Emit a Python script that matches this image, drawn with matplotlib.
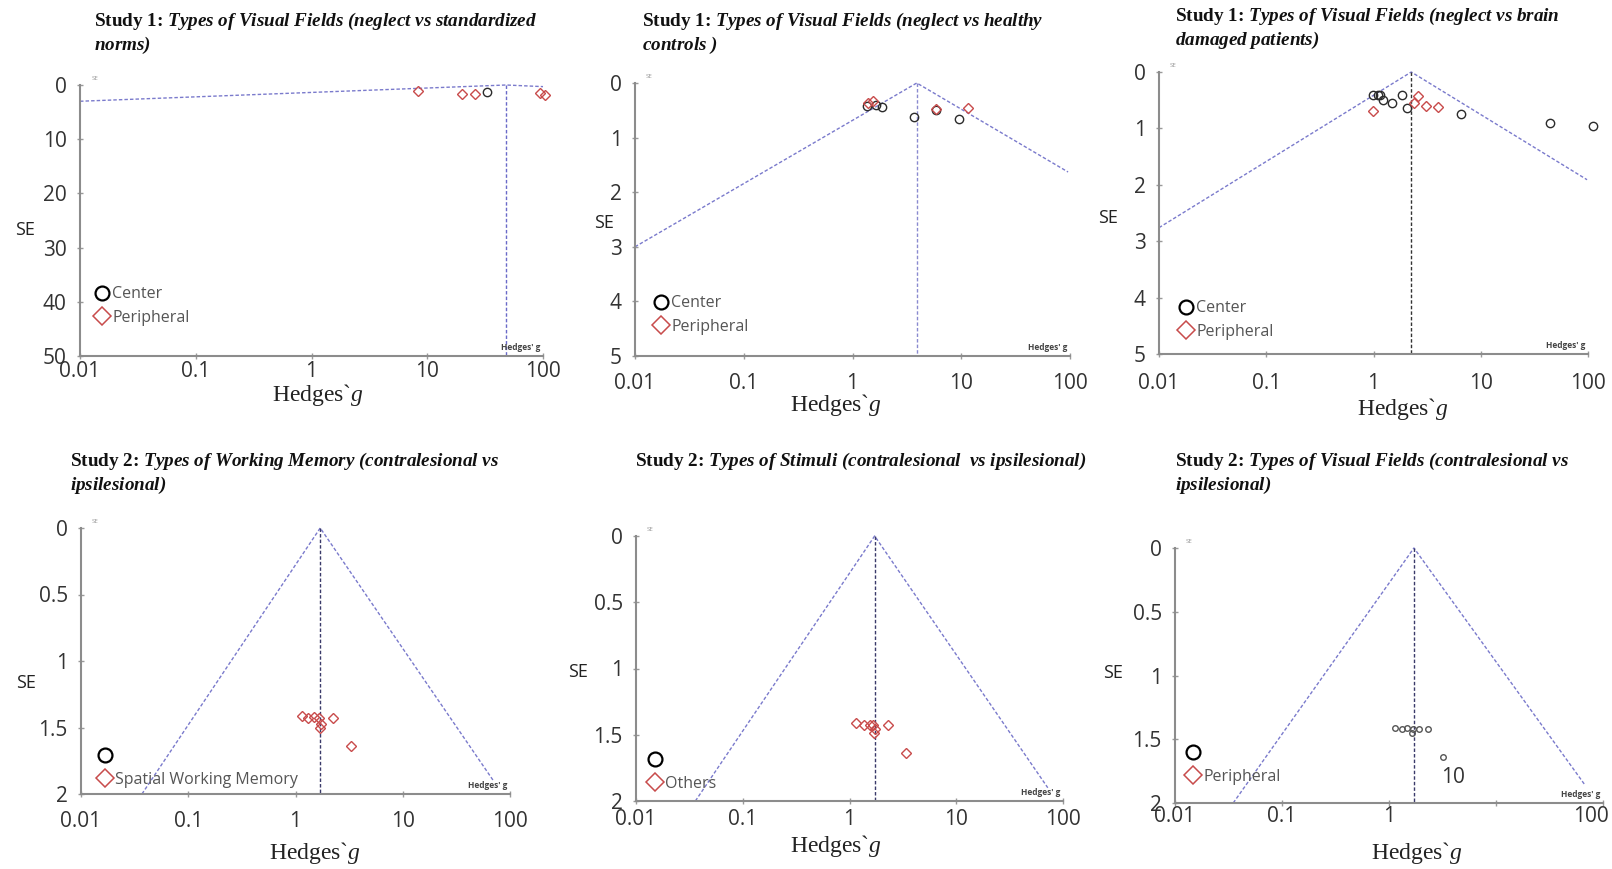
import matplotlib
matplotlib.use("Agg")
import matplotlib.pyplot as plt
from matplotlib.lines import Line2D
from matplotlib.transforms import ScaledTranslation

plt.rcParams['font.family'] = ['Open Sans', 'DejaVu Sans']
plt.rcParams['mathtext.fontset'] = 'custom'
plt.rcParams['mathtext.rm'] = 'Liberation Serif'
plt.rcParams['mathtext.it'] = 'Liberation Serif:italic'
plt.rcParams['mathtext.bf'] = 'Liberation Serif:bold'
plt.rcParams['mathtext.bfit'] = 'Liberation Serif:bold:italic'

# ---- data ----
titles = [
    "Study 1: " + r"$\mathbfit{Types\ of\ Visual\ Fields\ (neglect\ vs\ standardized}$" + "\n" + r"$\mathbfit{norms)}$",
    "Study 1: " + r"$\mathbfit{Types\ of\ Visual\ Fields\ (neglect\ vs\ healthy}$" + "\n" + r"$\mathbfit{controls\ )}$",
    "Study 1: " + r"$\mathbfit{Types\ of\ Visual\ Fields\ (neglect\ vs\ brain}$" + "\n" + r"$\mathbfit{damaged\ patients)}$",
    "Study 2: " + r"$\mathbfit{Types\ of\ Working\ Memory\ (contralesional\ vs}$" + "\n" + r"$\mathbfit{ipsilesional)}$",
    "Study 2: " + r"$\mathbfit{Types\ of\ Stimuli\ (contralesional\ \ vs\ ipsilesional)}$",
    "Study 2: " + r"$\mathbfit{Types\ of\ Visual\ Fields\ (contralesional\ vs}$" + "\n" + r"$\mathbfit{ipsilesional)}$",
]
legend_labels = [
    ["Center", "Peripheral"],
    ["Center", "Peripheral"],
    ["Center", "Peripheral"],
    ["", "Spatial Working Memory"],
    ["", "Others"],
    ["", "Peripheral"],
]
x_ticks = [0.01, 0.1, 1, 10, 100]
x_ticklabels = ["0.01", "0.1", "1", "10", "100"]
se_max = [50, 5, 5, 2, 2, 2]
se_ticks = [[0, 10, 20, 30, 40, 50], [0, 1, 2, 3, 4, 5], [0, 1, 2, 3, 4, 5],
            [0, 0.5, 1, 1.5, 2], [0, 0.5, 1, 1.5, 2], [0, 0.5, 1, 1.5, 2]]
se_ticklabels = [["0", "10", "20", "30", "40", "50"], ["0", "1", "2", "3", "4", "5"],
                 ["0", "1", "2", "3", "4", "5"], ["0", "0.5", "1", "1.5", "2"],
                 ["0", "0.5", "1", "1.5", "2"], ["0", "0.5", "1", "1.5", "2"]]

pooled_g = [48, 3.9, 2.25, 1.7, 1.72, 1.71]
funnel_left_g = [0.01, 0.01, 0.01, 0.037, 0.036, 0.035]
funnel_left_se = [3.0, 3.0, 2.76, 2.0, 2.0, 2.0]
funnel_right_g = [100, 96, 98, 70, 72, 68]
funnel_right_se = [0.3, 1.63, 1.91, 1.9, 1.9, 1.86]

center_g_1 = [33]
center_se_1 = [1.3]
periph_g_1 = [8.3, 20, 26, 95, 105]
periph_se_1 = [1.1, 1.6, 1.7, 1.5, 1.9]

center_g_2 = [1.35, 1.65, 1.85, 3.7, 5.9, 9.6]
center_se_2 = [0.42, 0.40, 0.44, 0.62, 0.49, 0.66]
periph_g_2 = [1.40, 1.55, 5.9, 11.5]
periph_se_2 = [0.36, 0.33, 0.48, 0.46]

center_g_3 = [0.99, 1.10, 1.15, 1.22, 1.48, 1.86, 2.04, 6.6, 44, 112]
center_se_3 = [0.41, 0.41, 0.41, 0.50, 0.55, 0.41, 0.64, 0.75, 0.91, 0.95]
periph_g_3 = [0.99, 2.4, 2.6, 3.1, 4.0]
periph_se_3 = [0.70, 0.55, 0.43, 0.60, 0.62]

center_g_4 = []
center_se_4 = []
periph_g_4 = [1.14, 1.32, 1.5, 1.66, 1.72, 1.70, 2.22, 3.28]
periph_se_4 = [1.41, 1.43, 1.42, 1.43, 1.47, 1.50, 1.43, 1.64]

center_g_5 = []
center_se_5 = []
periph_g_5 = [1.16, 1.37, 1.55, 1.67, 1.72, 1.70, 2.3, 3.4]
periph_se_5 = [1.41, 1.43, 1.43, 1.43, 1.46, 1.49, 1.43, 1.64]

center_g_6 = [1.14, 1.32, 1.48, 1.64, 1.68, 1.9, 2.3, 3.2]
center_se_6 = [1.41, 1.42, 1.41, 1.45, 1.42, 1.42, 1.42, 1.64]
periph_g_6 = []
periph_se_6 = []

centers = [(center_g_1, center_se_1), (center_g_2, center_se_2), (center_g_3, center_se_3),
           (center_g_4, center_se_4), (center_g_5, center_se_5), (center_g_6, center_se_6)]
periphs = [(periph_g_1, periph_se_1), (periph_g_2, periph_se_2), (periph_g_3, periph_se_3),
           (periph_g_4, periph_se_4), (periph_g_5, periph_se_5), (periph_g_6, periph_se_6)]

# ---- layout (pixels in a 1612x869 canvas) ----
W, H = 1612, 869
boxes = [(80, 543, 85, 356), (635, 1070, 83, 356), (1159, 1588, 72, 354),
         (81, 510, 528, 794), (636, 1063, 536, 801), (1175, 1603, 548, 803)]
title_xy = [(94, 11), (642, 11), (1175, 6), (70, 451), (635, 451), (1175, 451)]
se_label_xy = [(25, 230), (604, 223), (1108, 218), (26, 683), (578, 672), (1113, 673)]
xlabel_xy = [(318, 395), (836, 405), (1403, 409), (315, 853), (836, 846), (1417, 853)]
legend_xy = [(94, 306), (653, 315), (1178, 320), (97, 768), (647, 772), (1185, 765)]
xtick_pad = [1, 9.5, 11, 10, 3, 0]
marker_size = [6, 6, 6, 6, 6, 4]
vline_color = ['#6a6ac8', '#8a8ad0', '#333333', '#3a3a6a', '#3a3a6a', '#3a3a6a']

circle_col = '#2b2b2b'
diamond_col = '#c84b4b'
funnel_col = '#7a7acc'

fig = plt.figure(figsize=(W / 100, H / 100), dpi=100)

for i in range(6):
    x0, x1, y0, y1 = boxes[i]
    ax = fig.add_axes([x0 / W, 1 - y1 / H, (x1 - x0) / W, (y1 - y0) / H])
    ax.set_xscale('log')
    ax.set_xlim(0.01, 100)
    ax.set_ylim(se_max[i], 0)

    # funnel
    ax.plot([funnel_left_g[i], pooled_g[i], funnel_right_g[i]],
            [funnel_left_se[i], 0, funnel_right_se[i]],
            color=funnel_col, lw=1.0, ls=(0, (2.5, 1.5)), clip_on=False)
    ax.vlines(pooled_g[i], 0, se_max[i], color=vline_color[i], lw=1.0,
              linestyles=(0, (2.5, 1.5)))

    cg, cs = centers[i]
    pg, ps = periphs[i]
    ccol = circle_col if i != 5 else '#555555'
    ax.plot(cg, cs, 'o', ls='none', mfc='none', mec=ccol, ms=marker_size[i],
            mew=1.0, clip_on=False)
    ax.plot(pg, ps, 'D', ls='none', mfc='none', mec=diamond_col,
            ms=marker_size[i] * 0.85, mew=1.0, clip_on=False)

    # axes styling
    for s in ['top', 'right']:
        ax.spines[s].set_visible(False)
    for s in ['left', 'bottom']:
        ax.spines[s].set_color('#8c8c8c')
        ax.spines[s].set_linewidth(1.5)
    ax.set_xticks(x_ticks)
    labels = list(x_ticklabels)
    if i == 5:
        labels[3] = ""
    ax.set_xticklabels(labels)
    ax.minorticks_off()
    ax.set_yticks(se_ticks[i])
    ax.set_yticklabels(se_ticklabels[i])
    ax.tick_params(axis='both', direction='inout', length=5, width=1,
                   color='#9a9a9a', labelsize=15, labelcolor='#333333')
    ax.tick_params(axis='y', pad=7)
    ax.tick_params(axis='x', pad=xtick_pad[i])
    if i == 5:
        last = ax.get_xticklabels()[-1]
        last.set_transform(last.get_transform() + ScaledTranslation(-12 / 100, 0, fig.dpi_scale_trans))

    # axis labels
    ax.set_xlabel("Hedges`$g$", family='Liberation Serif', fontsize=17, color='#222222')
    lx, ly = xlabel_xy[i]
    ax.xaxis.set_label_coords((lx - x0) / (x1 - x0), 1 - (ly - y0) / (y1 - y0))
    ax.xaxis.label.set_va('center')
    ax.set_ylabel("SE", fontsize=13, rotation=0, color='#222222')
    sx, sy = se_label_xy[i]
    ax.yaxis.set_label_coords((sx - x0) / (x1 - x0), 1 - (sy - y0) / (y1 - y0))
    ax.yaxis.label.set_va('center')
    ax.yaxis.label.set_ha('center')

    # tiny embedded labels from the original software
    ax.text(0.025, 1.015, "SE", transform=ax.transAxes, fontsize=4.5,
            color='#999999', va='bottom')
    ax.text(0.995, 0.015, "Hedges' g", transform=ax.transAxes, fontsize=6,
            fontweight='bold', color='#444444', ha='right', va='bottom')

    if i == 5:
        ax.text(0.65, 0.10, "10", transform=ax.transAxes, fontsize=15,
                color='#333333', ha='center', va='center')

    # legend
    handles = [Line2D([], [], marker='o', ls='none', mfc='none', mec='black', ms=10, mew=1.6),
               Line2D([], [], marker='D', ls='none', mfc='none', mec=diamond_col, ms=9.5, mew=1.1)]
    gx, gy = legend_xy[i]
    ax.legend(handles, legend_labels[i], loc='center left',
              bbox_to_anchor=((gx - x0) / (x1 - x0), 1 - (gy - y0) / (y1 - y0)),
              frameon=False, fontsize=11.5, labelcolor='#555555', handlelength=1.0,
              handletextpad=0.15, labelspacing=0.45, borderpad=0, borderaxespad=0)

    tx, ty = title_xy[i]
    fig.text(tx / W, 1 - ty / H, titles[i], fontsize=13.8, color='#111111',
             family='Liberation Serif', fontweight='bold',
             ha='left', va='top', linespacing=1.2)

fig.savefig("out.png", dpi=100, facecolor='white')
